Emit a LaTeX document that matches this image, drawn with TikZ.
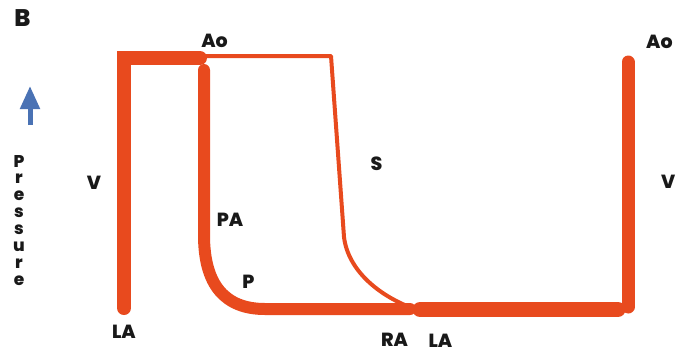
\documentclass[tikz,border=0pt]{standalone}
\usepackage{fontspec}
\setmainfont{Poppins}[BoldFont={Poppins ExtraBold}]
\usepackage{tikz}
\usetikzlibrary{arrows.meta}
\definecolor{traceorange}{RGB}{232,74,30}
\definecolor{arrowblue}{RGB}{74,114,180}

\begin{document}
\begin{tikzpicture}[x=1pt,y=-1pt,
  lbl/.style={font=\fontsize{19}{21}\selectfont\bfseries, text=black!90, inner sep=0pt},
  thicktrace/.style={draw=traceorange, line width=13pt, line cap=round},
  thintrace/.style={draw=traceorange, line width=4pt, line join=round}]
\clip (0,0) rectangle (677,354);

% Pressure traces
\draw[thicktrace, line width=14pt, line join=miter] (124,308) -- (124,58) -- (200,58);
\draw[thintrace] (200,56) -- (331,56) -- (344,237) .. controls (348,270) and (378,295) .. (412,308);
\draw[thicktrace, line width=12pt] (204,70) -- (204,235) .. controls (204,285) and (225,309) .. (265,309) -- (410,309);
\draw[thicktrace, line width=15pt] (420,309.5) -- (618,309.5);
\draw[thicktrace] (628,62) -- (628,307);

% Axis arrow and label
\coordinate (arrowfoot) at (30,125);
\coordinate (arrowtip) at (30,86);
\draw[arrowblue, line width=5pt, -{Triangle[length=23pt,width=19pt]}] (arrowfoot) -- (arrowtip);
\foreach \ch [count=\i from 0] in {P,r,e,s,s,u,r,e}
  \node[lbl, font=\fontsize{17}{19}\selectfont\bfseries, anchor=base] (press\i) at (19,{167+16.9*\i}) {\ch};

% Labels
\node[lbl, font=\fontsize{24}{26}\selectfont\bfseries] (panel) at (22.5,18.5) {B};
\node[lbl] (aoleft) at (214.5,41) {Ao};
\node[lbl, anchor=west] (aoright) at (646,41.5) {Ao};
\node[lbl, anchor=west] (vright) at (661,182) {V};
\node[lbl] (vleft) at (94,182.5) {V};
\node[lbl] (pa) at (230,220) {PA};
\node[lbl] (p) at (248.5,281.5) {P};
\node[lbl] (laleft) at (124,331.5) {LA};
\node[lbl] (s) at (376.5,163.5) {S};
\node[lbl] (ra) at (394.5,340) {RA};
\node[lbl] (labottom) at (440.5,341) {LA};
\end{tikzpicture}
\end{document}
